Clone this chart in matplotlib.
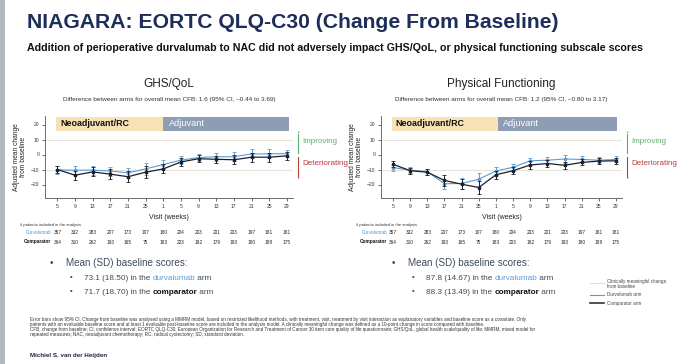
import numpy as np
import matplotlib.pyplot as plt
from matplotlib.lines import Line2D
from matplotlib.patches import Rectangle

plt.rcParams['font.family'] = ['Liberation Sans', 'DejaVu Sans']

W, H = 680, 364

# data
weeks = ['5', '9', '13', '17', '21', '25', '1', '5', '9', '13', '17', '21', '25', '29']
n_durva = [357, 332, 283, 207, 173, 107, 180, 204, 203, 201, 203, 197, 181, 181]
n_comp = [364, 310, 262, 193, 165, 75, 183, 203, 182, 179, 193, 180, 188, 175]

ghs_durva = [-10.2, -10.5, -10.4, -11.0, -12.2, -9.6, -6.7, -3.8, -2.0, -1.5, -1.5, 0.4, 0.4, 0.6]
ghs_comp = [-10.0, -13.8, -11.6, -13.1, -14.8, -11.8, -9.6, -5.0, -2.8, -3.2, -3.5, -1.8, -1.8, -0.9]
ghs_durva_err = [2.5, 3.0, 3.0, 3.0, 3.5, 4.0, 3.0, 2.5, 2.5, 2.5, 3.0, 3.0, 3.0, 2.5]
ghs_comp_err = [2.5, 3.0, 3.0, 3.5, 3.5, 4.0, 3.0, 2.5, 2.5, 2.5, 3.0, 3.0, 3.0, 2.5]

pf_durva = [-8.7, -10.4, -11.4, -19.5, -19.3, -16.5, -11.0, -8.5, -4.2, -3.8, -3.0, -3.3, -3.8, -3.3]
pf_comp = [-6.5, -10.8, -11.8, -17.3, -19.8, -22.0, -13.5, -10.8, -7.0, -6.0, -7.2, -5.3, -4.4, -4.2]
pf_durva_err = [2.0, 2.0, 2.0, 3.5, 3.5, 4.5, 2.5, 2.5, 2.0, 2.0, 2.5, 2.0, 2.0, 2.0]
pf_comp_err = [2.0, 2.0, 2.0, 3.5, 3.5, 4.5, 2.5, 2.5, 2.5, 2.5, 2.5, 2.0, 2.0, 2.0]

NAVY = '#1f2d5a'
BLUE = '#5b9bd5'
DARK = '#1b1f2a'
GREEN = '#5aae6e'
RED = '#b4403c'
TXT = '#3d4a5c'


def fx(x):
    return x / W


def fy(y):
    return 1 - y / H


fig = plt.figure(figsize=(W / 100, H / 100), dpi=100)
fig.patch.set_facecolor('white')

# grey strip on the left edge
fig.add_artist(Rectangle((0, 0), fx(5), 1, transform=fig.transFigure, color='#b3b7bf', lw=0))

fig.text(fx(27), fy(22), 'NIAGARA: EORTC QLQ-C30 (Change From Baseline)', fontsize=15.2,
         color=NAVY, va='center', ha='left', fontweight='bold')
fig.text(fx(27), fy(48), 'Addition of perioperative durvalumab to NAC did not adversely impact GHS/QoL, '
         'or physical functioning subscale scores', fontsize=7.7, fontweight='bold',
         color='#111111', va='center', ha='left')


def draw_panel(left, width, durva, comp, derr, cerr, title, diff, neo_end, adj_end):
    bottom = 1 - 198 / H
    height = 82.5 / H
    ax = fig.add_axes([fx(left), bottom, fx(width), height])
    x = np.arange(len(weeks))
    ax.set_xlim(-0.7, 13.35)
    ax.set_ylim(-29, 26)
    for s in ['top', 'right']:
        ax.spines[s].set_visible(False)
    for s in ['left', 'bottom']:
        ax.spines[s].set_color('#555555')
        ax.spines[s].set_linewidth(0.6)
    ax.set_xticks(x)
    ax.set_xticklabels(weeks)
    ax.set_yticks([-20, -10, 0, 10, 20])
    ax.tick_params(labelsize=3.6, length=2, width=0.5, pad=2, colors='#333333')
    ax.axhline(10, color='#e6e2d6', lw=0.8, zorder=0)
    ax.axhline(-10, color='#e6e2d6', lw=0.8, zorder=0)
    ax.fill_between([-0.05, neo_end], 15.8, 25, color='#f7e2b6', lw=0)
    ax.fill_between([neo_end, adj_end], 15.8, 25, color='#8e9db4', lw=0)
    ax.text(0.15, 20.4, 'Neoadjuvant/RC', fontsize=6.4, fontweight='bold', va='center', color='#111111')
    ax.text(neo_end + 0.3, 20.4, 'Adjuvant', fontsize=6.6, va='center', color='white')
    ax.errorbar(x, durva, yerr=derr, color=BLUE, lw=0.8, marker='o', ms=1.6,
                elinewidth=0.7, capsize=1.2, capthick=0.6, zorder=3)
    ax.errorbar(x, comp, yerr=cerr, color=DARK, lw=0.9, marker='s', ms=1.6,
                elinewidth=0.7, capsize=1.2, capthick=0.6, zorder=4)
    ax.set_xlabel('Visit (weeks)', fontsize=5, labelpad=4, color='#222222')
    ax.set_ylabel('Adjusted mean change\nfrom baseline', fontsize=4.8, labelpad=3, color='#222222',
                  linespacing=1.0)
    cx = left + width / 2
    fig.text(fx(cx), fy(84), title, fontsize=8.5, ha='center', va='center', color='#222222')
    fig.text(fx(cx), fy(100), diff, fontsize=4.6, ha='center', va='center', color='#333333')

    # improving / deteriorating arrows
    ax_right = left + width
    arx = ax_right + 5
    fig.add_artist(plt.Line2D([fx(arx), fx(arx)], [fy(153), fy(134)], color=GREEN, lw=0.8))
    fig.add_artist(plt.Line2D([fx(arx), fx(arx)], [fy(157), fy(176)], color=RED, lw=0.8))
    fig.text(fx(arx), fy(132), '\u25b2', fontsize=2.5, color=GREEN, ha='center', va='center')
    fig.text(fx(arx), fy(178), '\u25bc', fontsize=2.5, color=RED, ha='center', va='center')
    fig.text(fx(arx + 4), fy(142), 'Improving', fontsize=5.8, color=GREEN, va='center')
    fig.text(fx(arx + 4), fy(164), 'Deteriorating', fontsize=5.8, color=RED, va='center')

    # patients table
    tick_px = [fx(left) + (xi + 0.7) / 14.05 * fx(width) for xi in x]
    fig.text(fx(left - 25), fy(225), '# patients included in the analysis', fontsize=3, color='#333333',
             va='center')
    fig.text(tick_px[0] - fx(6), fy(233), 'Durvalumab', fontsize=3.4, color=BLUE, ha='right', va='center')
    fig.text(tick_px[0] - fx(6), fy(242), 'Comparator', fontsize=3.4, color='#111111', ha='right',
             va='center', fontweight='bold')
    for tp, a, b in zip(tick_px, n_durva, n_comp):
        fig.text(tp, fy(233), str(a), fontsize=3.4, color='#222222', ha='center', va='center')
        fig.text(tp, fy(242), str(b), fontsize=3.4, color='#222222', ha='center', va='center')
    return ax


draw_panel(45, 248, ghs_durva, ghs_comp, ghs_durva_err, ghs_comp_err, 'GHS/QoL',
           'Difference between arms for overall mean CFB: 1.6 (95% CI, \u20130.44 to 3.69)', 6.0, 13.1)
draw_panel(381, 241, pf_durva, pf_comp, pf_durva_err, pf_comp_err, 'Physical Functioning',
           'Difference between arms for overall mean CFB: 1.2 (95% CI, \u20130.80 to 3.17)', 6.1, 13.05)


def colored_line(x0, y, parts, size):
    # draw a sentence made of (text, colour, weight) pieces side by side
    fig.canvas.draw()
    xpos = fx(x0)
    for txt, col, wt in parts:
        t = fig.text(xpos, fy(y), txt, fontsize=size, color=col, va='center', fontweight=wt)
        xpos = t.get_window_extent(renderer=fig.canvas.get_renderer()).x1 / W


def bullets(x0, durva_txt, comp_txt):
    fig.text(fx(x0), fy(263), '\u2022', fontsize=7, color=TXT, va='center')
    fig.text(fx(x0 + 16), fy(263), 'Mean (SD) baseline scores:', fontsize=7.1, color=TXT, va='center')
    fig.text(fx(x0 + 20), fy(278), '\u2022', fontsize=5.5, color=TXT, va='center')
    colored_line(x0 + 34, 278, [(durva_txt + ' in the ', TXT, 'normal'), ('durvalumab', BLUE, 'normal'),
                                (' arm', TXT, 'normal')], 5.9)
    fig.text(fx(x0 + 20), fy(292), '\u2022', fontsize=5.5, color=TXT, va='center')
    colored_line(x0 + 34, 292, [(comp_txt + ' in the ', TXT, 'normal'), ('comparator', '#111111', 'bold'),
                                (' arm', TXT, 'normal')], 5.9)


bullets(50, '73.1 (18.50)', '71.7 (18.70)')
bullets(392, '87.8 (14.67)', '88.3 (13.49)')

# legend
fig.add_artist(Line2D([fx(590), fx(604)], [fy(283), fy(283)], color='#e3e0d6', lw=0.8))
fig.add_artist(Line2D([fx(590), fx(604)], [fy(295), fy(295)], color=BLUE, lw=0.8))
fig.add_artist(Line2D([fx(590), fx(604)], [fy(303), fy(303)], color='#333333', lw=1.2))
fig.text(fx(607), fy(284), 'Clinically meaningful change\nfrom baseline', fontsize=3.3, color='#444444',
         va='center', linespacing=1.1)
fig.text(fx(607), fy(295), 'Durvalumab arm', fontsize=3.3, color='#444444', va='center')
fig.text(fx(607), fy(303), 'Comparator arm', fontsize=3.3, color='#444444', va='center')

foot = [
    'Error bars show 95% CI. Change from baseline was analysed using a MMRM model, based on restricted likelihood '
    'methods, with treatment, visit, treatment by visit interaction as explanatory variables and baseline score as a '
    'covariate. Only',
    'patients with an evaluable baseline score and at least 1 evaluable post-baseline score are included in the analysis '
    'model. A clinically meaningful change was defined as a 10-point change in score compared with baseline.',
    'CFB, change from baseline; CI, confidence interval; EORTC QLQ-C30, European Organization for Research and Treatment '
    'of Cancer 30 item core quality of life questionnaire; GHS/QoL, global health scale/quality of life; MMRM, mixed model for',
    'repeated measures; NAC, neoadjuvant chemotherapy; RC, radical cystectomy; SD, standard deviation.',
]
for i, line in enumerate(foot):
    fig.text(fx(30), fy(319 + i * 5.3), line, fontsize=3.35, color='#333333', va='center')

fig.text(fx(30), fy(355), 'Michiel S. van der Heijden', fontsize=4.5, fontweight='bold', color='#222244',
         va='center')

fig.savefig('out.png', dpi=100, facecolor='white')
